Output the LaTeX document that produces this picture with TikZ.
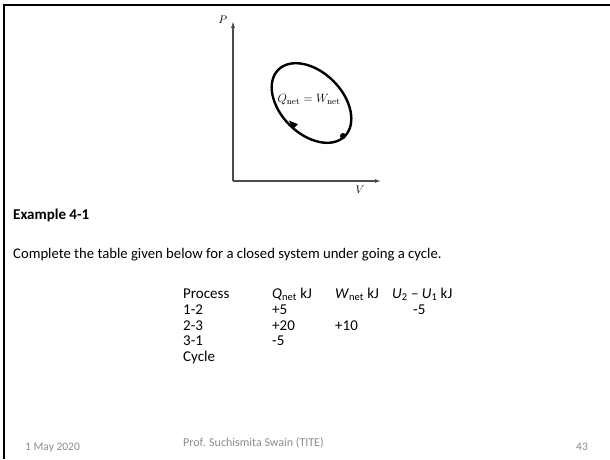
\documentclass[tikz,border=0pt]{standalone}
\usepackage[no-math]{fontspec}
\setmainfont{Carlito}
\usetikzlibrary{arrows.meta}
\tikzset{
  body/.style={anchor=base west, inner sep=0pt, font=\fontsize{15}{18}\selectfont},
  foot/.style={anchor=base west, inner sep=0pt, text=black!45, font=\fontsize{11.5}{13}\selectfont},
  axis/.style={draw=black!70, line width=1.1pt},
  cycle/.style={draw=black, line width=2.4pt}
}
\begin{document}
\begin{tikzpicture}[x=1pt,y=-1pt]
\useasboundingbox (0,0) rectangle (610,459);
% slide border
\draw[line width=2pt] (610,5) -- (4.3,5) -- (4.3,459);
% axes
\coordinate (O) at (233,181);
\coordinate (Ptip) at (233,21);
\coordinate (Vtip) at (381,181);
\draw[axis,-{Latex[length=7pt,width=4pt]}] (O) -- (Ptip);
\draw[axis,-{Latex[length=6pt,width=4pt]}] (O) -- (Vtip);
\node[inner sep=0pt,font=\fontsize{11}{12}\selectfont] (P) at (223,20) {$P$};
\node[inner sep=0pt,font=\fontsize{11}{12}\selectfont] (V) at (360,190) {$V$};
% cycle
\coordinate (C) at (311.5,103);
\draw[cycle,rotate around={-45:(C)}] (C) ellipse [x radius=47pt, y radius=31pt];
\node[inner sep=0pt,font=\fontsize{12.5}{14}\selectfont] (lab) at (309,100) {$Q_{\mathrm{net}} = W_{\mathrm{net}}$};
\fill (343,136) circle (3pt) coordinate (dot);
\fill (289,120.5) -- (297.9,124.2) -- (292.9,129.2) -- cycle;
% text
\node[body,font=\bfseries\fontsize{15}{18}\selectfont] (ex) at (13,219) {Example 4-1};
\node[body,font=\fontsize{14.7}{17}\selectfont] (intro) at (13,258) {Complete the table given below for a closed system under going a cycle.};
% table
\node[body] (h1) at (183,298) {Process};
\node[body] (h2) at (272,298) {\textit{Q}\textsubscript{net} kJ};
\node[body] (h3) at (335,298) {\textit{W}\textsubscript{net} kJ};
\node[body] (h4) at (392,298) {\textit{U}\textsubscript{2} – \textit{U}\textsubscript{1} kJ};
\node[body] (r1) at (183,314) {1-2};
\node[body] (r1q) at (272,314) {+5};
\node[body] (r1u) at (413,314) {-5};
\node[body] (r2) at (183,330) {2-3};
\node[body] (r2q) at (272,330) {+20};
\node[body] (r2w) at (335,330) {+10};
\node[body] (r3) at (183,345) {3-1};
\node[body] (r3q) at (272,345) {-5};
\node[body] (r4) at (183,361) {Cycle};
% footer
\node[foot] (date) at (25,450) {1 May 2020};
\node[foot,font=\fontsize{12}{14}\selectfont] (auth) at (183,446) {Prof. Suchismita Swain (TITE)};
\node[foot] (pg) at (576,450) {43};
\end{tikzpicture}
\end{document}
